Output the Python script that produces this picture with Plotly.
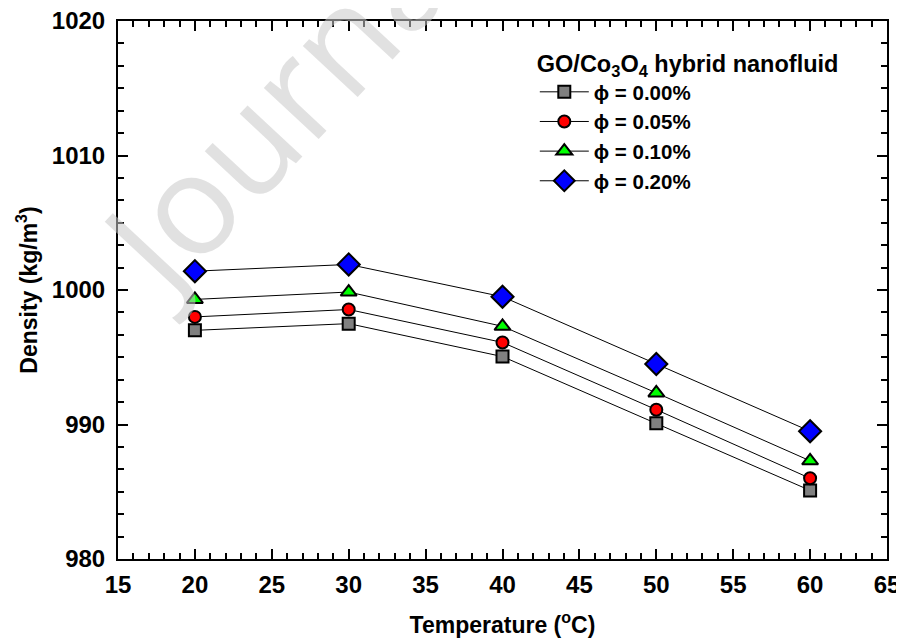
import plotly.graph_objects as go

temperature = [20, 30, 40, 50, 60]
phi_000 = [997.0, 997.5, 995.05, 990.1, 985.1]
phi_005 = [998.0, 998.55, 996.1, 991.1, 986.0]
phi_010 = [999.3, 999.85, 997.3, 992.35, 987.3]
phi_020 = [1001.4, 1001.9, 999.5, 994.5, 989.5]

series_names = ["\u03d5 = 0.00%", "\u03d5 = 0.05%", "\u03d5 = 0.10%", "\u03d5 = 0.20%"]
series_values = [phi_000, phi_005, phi_010, phi_020]
symbols = ["square", "circle", "triangle-up", "diamond"]
colors = ["#808080", "#ff0000", "#00ff00", "#0000ff"]
sizes = [12, 12, 14, 17]

FONT = "Arial, 'Liberation Sans', sans-serif"

fig = go.Figure()
for name, vals, sym, col, sz in zip(series_names, series_values, symbols, colors, sizes):
    fig.add_trace(go.Scatter(
        x=temperature, y=vals, name=name, mode="lines+markers",
        line=dict(color="black", width=1),
        marker=dict(symbol=sym, size=sz, color=col, line=dict(color="black", width=2)),
    ))

axis_common = dict(
    showline=True, linewidth=2, linecolor="black", mirror="allticks",
    ticks="inside", ticklen=10, tickwidth=2, tickcolor="black",
    showgrid=False, zeroline=False, automargin=False,
    ticklabeloverflow="allow",
    tickfont=dict(family=FONT, size=24, color="black", weight="bold"),
)

fig.update_xaxes(
    range=[15, 65], tick0=15, dtick=5,
    minor=dict(ticks="inside", ticklen=6, tickwidth=1.5, tickcolor="black", dtick=1, tick0=15, showgrid=False),
    ticklabelstandoff=3,
    title=dict(text="Temperature (<sup>o</sup>C)", font=dict(family=FONT, size=23, color="black", weight="bold"), standoff=20),
    **axis_common,
)
fig.update_yaxes(
    range=[980, 1020], tick0=980, dtick=10,
    minor=dict(ticks="inside", ticklen=6, tickwidth=1.5, tickcolor="black", dtick=10/6, tick0=980, showgrid=False),
    ticklabelstandoff=6,
    title=dict(text="Density (kg/m<sup>3</sup>)", font=dict(family=FONT, size=23, color="black", weight="bold"), standoff=8),
    **axis_common,
)

fig.add_annotation(
    text="Journal Pre-proof", xref="paper", yref="paper", x=0.51, y=1.312,
    xanchor="center", yanchor="middle",
    showarrow=False, textangle=-47,
    font=dict(family="'Open Sans', sans-serif", size=140, color="rgba(200,200,200,0.55)"),
)

fig.update_layout(
    width=896, height=632,
    margin=dict(l=110, r=17, t=13, b=81),
    paper_bgcolor="white", plot_bgcolor="white",
    showlegend=True,
    legend=dict(
        x=0.542, y=0.962, xanchor="left", yanchor="top",
        bgcolor="rgba(0,0,0,0)", borderwidth=0,
        itemwidth=49,
        font=dict(family=FONT, size=20.5, color="black", weight="bold"),
        title=dict(text="GO/Co<sub>3</sub>O<sub>4</sub> hybrid nanofluid",
                   font=dict(family=FONT, size=23.5, color="black", weight="bold")),
    ),
)

fig.write_html("out.html")
